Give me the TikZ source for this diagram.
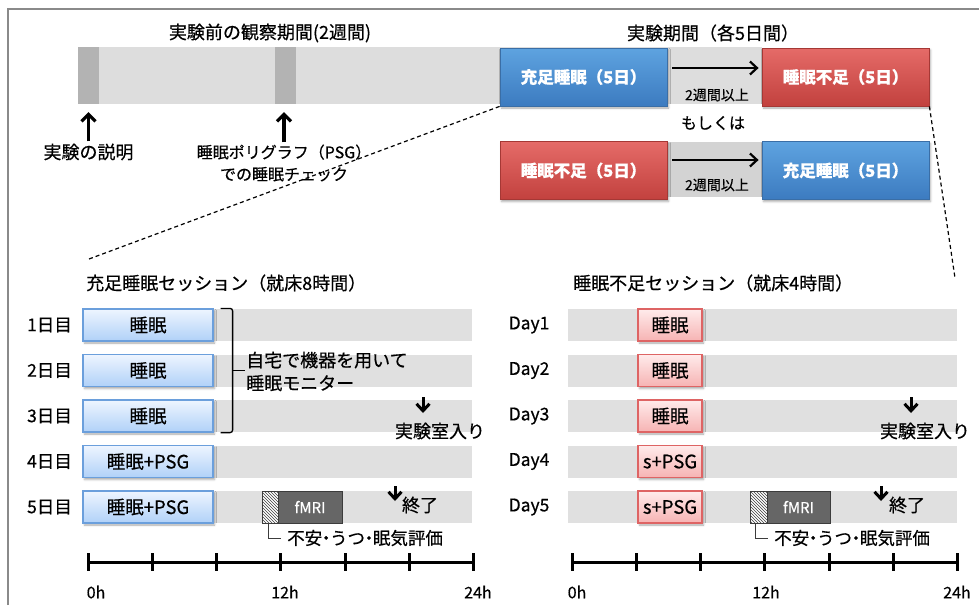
\documentclass[tikz,border=0pt]{standalone}
\usepackage{fontspec}
\setmainfont{Noto Sans CJK JP}[FakeBold=0.5]
\usetikzlibrary{arrows.meta,shadows.blur,patterns,calc}
\newcommand{\hdot}{\makebox[0.45em]{・}}
\definecolor{bigblueT}{HTML}{5EA3E0}
\definecolor{bigblueB}{HTML}{3C7BC0}
\definecolor{bigblueD}{HTML}{3A6EA6}
\definecolor{bigredT}{HTML}{E56B68}
\definecolor{bigredB}{HTML}{C2413E}
\definecolor{bigredD}{HTML}{A53835}
\definecolor{lblueT}{HTML}{EEF5FF}
\definecolor{lblueB}{HTML}{B0D1F8}
\definecolor{lblueD}{HTML}{6B9FDC}
\definecolor{pinkT}{HTML}{FFEBEB}
\definecolor{pinkB}{HTML}{F6B3B3}
\definecolor{pinkD}{HTML}{DE6464}
\definecolor{rowgray}{HTML}{E0E0E0}
\definecolor{bargray}{HTML}{DDDDDD}
\definecolor{stripegray}{HTML}{B3B3B3}
\definecolor{midgray}{HTML}{D3D3D3}
\definecolor{fmriG}{HTML}{666666}
\definecolor{fmriD}{HTML}{3C3C3C}
\definecolor{framegray}{HTML}{8A8A8A}
\begin{document}
\begin{tikzpicture}[x=1pt,y=-1pt,
  fa/.style={font=\fontsize{18}{23}\selectfont, inner sep=1pt},
  fb/.style={font=\fontsize{17.5}{21}\selectfont, inner sep=1pt},
  fc/.style={font=\fontsize{16}{22}\selectfont, inner sep=1pt},
  fd/.style={font=\fontsize{14}{17}\selectfont, inner sep=1pt},
  plain/.style={rectangle, inner sep=0pt, draw=none},
  sh/.style={blur shadow={shadow xshift=1.5pt, shadow yshift=-2pt, shadow opacity=35, shadow blur radius=2pt}},
  bigbox/.style={plain, sh, line width=0.8pt, minimum width=167pt, minimum height=58pt, text=white, font=\bfseries\fontsize{16.5}{20}\selectfont},
  bluebig/.style={bigbox, draw=bigblueD, top color=bigblueT, bottom color=bigblueB},
  redbig/.style={bigbox, draw=bigredD, top color=bigredT, bottom color=bigredB},
  smallbox/.style={plain, sh, line width=1.2pt, minimum height=32pt, font=\fontsize{18.5}{22}\selectfont},
  lblue/.style={smallbox, draw=lblueD, top color=lblueT, bottom color=lblueB, minimum width=130pt},
  lpink/.style={smallbox, draw=pinkD, top color=pinkT, bottom color=pinkB, minimum width=64pt},
  gbar/.style={plain, fill=rowgray, minimum width=389pt, minimum height=32pt},
  hatch/.style={plain, fill=white, draw=fmriD, line width=1pt, minimum height=32pt,
     postaction={pattern=north west lines, pattern color=fmriD}},
  fmri/.style={plain, fill=fmriG, draw=fmriD, line width=1pt, minimum height=32pt, text=white, font=\fontsize{15}{18}\selectfont},
  bigarrow/.style={line width=2.2pt, -{Straight Barb[length=7pt,width=13pt]}},
  uparrow/.style={line width=3.2pt, -{Straight Barb[length=7pt,width=14pt]}},
  downarrow/.style={line width=3pt, -{Straight Barb[length=7pt,width=13pt]}},
  dashline/.style={line width=1.2pt, dash pattern=on 4pt off 3pt},
  axisline/.style={line width=3pt},
  thinline/.style={line width=0.9pt, draw=fmriD}
]
\useasboundingbox (0,0) rectangle (979,605);
% frame
\draw[framegray, line width=1.5pt] (8,605) -- (8,9) -- (979,9);

% ---------- top part ----------
\node[plain, fill=bargray, minimum width=684pt, minimum height=57pt] (bar) at (420,75.5) {};
\node[plain, fill=stripegray, minimum width=21pt, minimum height=57pt] (s1) at (88.5,75.5) {};
\node[plain, fill=stripegray, minimum width=21pt, minimum height=57pt] (s2) at (285.5,75.5) {};
\node[plain, fill=midgray, minimum width=95pt, minimum height=55pt] (m2) at (714.5,169.5) {};
\node[fa] (t1) at (270,33) {実験前の観察期間(2週間)};
\node[fa] (t2) at (713,33) {実験期間（各5日間）};

\coordinate (dashL) at (89,259);
\coordinate (dashR) at (955,278);

\node[bluebig] (b1) at (583.5,77) {充足睡眠（5日）};
\node[redbig] (r1) at (845.5,77) {睡眠不足（5日）};
\node[redbig] (r2) at (583.5,170.5) {睡眠不足（5日）};
\node[bluebig] (b2) at (845.5,170.5) {充足睡眠（5日）};

\draw[dashline] (b1.south west) -- (dashL);
\draw[dashline] (r1.south east) -- (dashR);

\draw[bigarrow] ([xshift=5pt,yshift=9pt]b1.east) -- ([xshift=-3pt,yshift=9pt]r1.west);
\draw[bigarrow] ([xshift=5pt,yshift=10.5pt]r2.east) -- ([xshift=-3pt,yshift=10.5pt]b2.west);
\node[fd] (w1) at (717,95) {2週間以上};
\node[fd] (w2) at (717,185) {2週間以上};
\node[fc] (or) at (713,123) {もしくは};

\node[fa] (l1) at (88.5,152) {実験の説明};
\node[fc, align=center] (l2) at (284,163) {睡眠ポリグラフ（PSG）\\での睡眠チェック};
\draw[uparrow, shorten >=8pt, shorten <=1pt] (l1.north) -- (l1.north |- s1.south);
\draw[uparrow, shorten >=8pt, shorten <=1pt] (l2.north) -- (l2.north |- s2.south);

% ---------- sessions ----------
\node[fa, anchor=west] (st1) at (85,283) {充足睡眠セッション（就床8時間）};
\node[fa, anchor=west] (st2) at (572,283) {睡眠不足セッション（就床4時間）};

\foreach \i/\y in {1/325,2/370.5,3/416,4/461.5,5/507} {
  \node[gbar] (gl\i) at (277.5,\y) {};
  \node[gbar] (gr\i) at (762.5,\y) {};
  \node[fb] (dayL\i) at (49.5,\y) {{\i}日目};
  \node[fb] (dayR\i) at (529,\y) {Day{\i}};
}
\foreach \i/\y in {1/325,2/370.5,3/416} {
  \node[lblue] (bl\i) at (148,\y) {睡眠};
  \node[lpink] (br\i) at (670,\y) {睡眠};
}
\foreach \i/\y in {4/461.5,5/507} {
  \node[lblue] (bl\i) at (148,\y) {睡眠+PSG};
  \node[lpink] (br\i) at (670,\y) {s+PSG};
}

% brace
\draw[line width=1.3pt, rounded corners=2.5pt] ([xshift=7pt]bl1.north east) -- ([xshift=19pt]bl1.north east)
   -- ([xshift=19pt]bl3.south east) -- ([xshift=7pt]bl3.south east);
\coordinate (braceTip) at ($([xshift=19pt]bl1.north east)!0.5!([xshift=19pt]bl3.south east)$);
\draw[line width=1.3pt] (braceTip) -- ++(12,0);
\node[fa, anchor=west, align=left] (mon) at (245,371.5) {自宅で機器を用いて\\睡眠モニター};

% lab entry
\node[fa] (enL) at (440,431) {実験室入り};
\node[fa] (enR) at (925,431) {実験室入り};
\coordinate (iaL) at (423,397);
\coordinate (iaR) at (911,397);
\draw[downarrow] (iaL) -- ++(0,16);
\draw[downarrow] (iaR) -- ++(0,16);

% fMRI
\node[hatch, minimum width=16pt] (hL) at (270,507) {};
\node[fmri, minimum width=64pt] (fL) at (310,507) {fMRI};
\node[hatch, minimum width=17pt] (hR) at (758.5,507) {};
\node[fmri, minimum width=63pt] (fR) at (798.5,507) {fMRI};

\node[fb, anchor=west] (evL) at (286,538) {不安\hdot うつ\hdot 眠気評価};
\node[fb, anchor=west] (evR) at (773,538) {不安\hdot うつ\hdot 眠気評価};
\draw[thinline] ([xshift=-2pt]hL.south) |- ([xshift=-5pt]evL.west);
\draw[thinline] ([xshift=-3pt]hR.south) |- ([xshift=-5pt]evR.west);

% end
\node[fa] (endL) at (420,505) {終了};
\node[fa] (endR) at (907,505) {終了};
\coordinate (eaL) at (395,486);
\coordinate (eaR) at (881,486);
\draw[downarrow] (eaL) -- ++(0,15);
\draw[downarrow] (eaR) -- ++(0,15);

% time axes
\foreach \side/\xa in {L/88,R/572} {
  \coordinate (ax\side a) at (\xa,562);
  \coordinate (ax\side b) at (\xa+385.5,562);
  \draw[axisline] (ax\side a) -- (ax\side b);
  \foreach \k in {0,...,6} {
    \draw[axisline] (\xa+64.25*\k,553) -- ++(0,18);
  }
}
\node[fc] (hL0) at (96,592) {0h};
\node[fc] (hL12) at (285,592) {12h};
\node[fc] (hL24) at (478,592) {24h};
\node[fc] (hR0) at (577,592) {0h};
\node[fc] (hR12) at (766,592) {12h};
\node[fc] (hR24) at (957,592) {24h};
\end{tikzpicture}
\end{document}
